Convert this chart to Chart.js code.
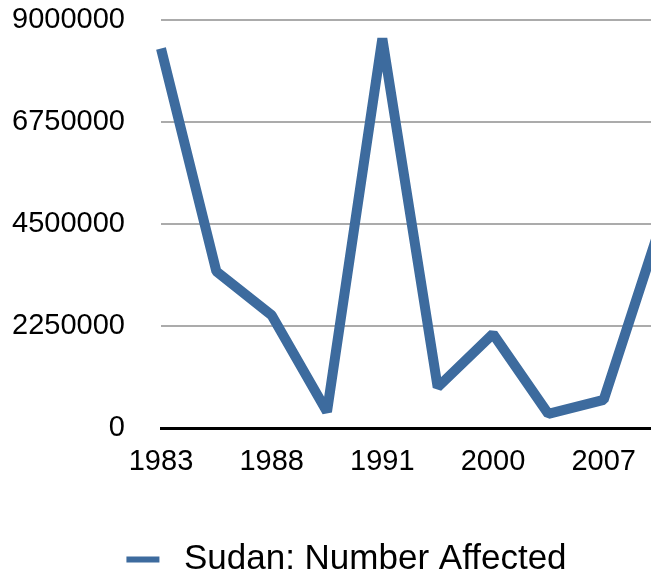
<!DOCTYPE html>
<html lang="en">
<head>
  <meta charset="UTF-8" />
  <title>Sudan: Number Affected</title>
  <script src="https://cdn.jsdelivr.net/npm/chart.js"></script>
  <style>
    html, body {
      margin: 0;
      padding: 0;
      background: #fff;
      overflow: hidden;
    }
    #wrap {
      position: relative;
      width: 651px;
      height: 577px;
      overflow: hidden;
    }
    /* the plot runs past the right edge in the original, so the canvas is wider than the window */
    #sudanChart {
      position: absolute;
      left: 0;
      top: -33px;
    }
  </style>
</head>
<body>
  <div id="wrap">
    <canvas id="sudanChart" width="672" height="620"></canvas>
  </div>

  <script>
    // data (only every other year is labelled on the axis)
    const years = ['1983', '1985', '1988', '1990', '1991', '1996', '2000', '2004', '2007', '2009'];
    const affected = [8380000, 3460000, 2490000, 360000, 8600000, 900000, 2080000, 310000, 620000, 4370000];
    const yTicks = [0, 2250000, 4500000, 6750000, 9000000];

    const lineColor = '#3d6b9e';
    const fontFamily = '"Liberation Sans", Arial, Helvetica, sans-serif';

    Chart.defaults.font.family = fontFamily;
    Chart.defaults.color = '#000';

    // nudge the legend a bit to the right, like the original
    const legendShift = {
      id: 'legendShift',
      afterLayout(chart) {
        chart.legend.left += 11;
        chart.legend.right += 11;
      }
    };

    const ctx = document.getElementById('sudanChart').getContext('2d');

    const chart = new Chart(ctx, {
      type: 'line',
      data: {
        labels: years,
        datasets: [{
          label: 'Sudan: Number Affected',
          data: affected,
          borderColor: lineColor,
          backgroundColor: lineColor,
          borderWidth: 10,
          borderJoinStyle: 'bevel',
          borderCapStyle: 'butt',
          pointRadius: 0,
          tension: 0,
          fill: false
        }]
      },
      options: {
        responsive: false,
        animation: false,
        layout: {
          padding: { left: 12, right: 13, top: 0, bottom: 0 }
        },
        plugins: {
          tooltip: { enabled: false },
          legend: {
            position: 'bottom',
            labels: {
              font: { size: 35 },
              boxWidth: 33,
              boxHeight: 6,
              padding: 10,
              generateLabels: (c) => [{
                text: '\u2009' + c.data.datasets[0].label,
                fillStyle: lineColor,
                strokeStyle: lineColor,
                lineWidth: 0,
                datasetIndex: 0
              }]
            }
          }
        },
        scales: {
          x: {
            offset: false,
            grid: { display: false },
            border: { display: true, color: '#000', width: 3 },
            afterFit: (scale) => {
              scale.height = 104;
            },
            ticks: {
              autoSkip: false,
              maxRotation: 0,
              padding: 9,
              font: { size: 29 },
              callback: (val, i) => (i % 2 === 0 ? years[i] : '')
            }
          },
          y: {
            min: 0,
            max: 9000000,
            afterBuildTicks: (scale) => {
              scale.ticks = yTicks.map(v => ({ value: v }));
            },
            afterFit: (scale) => {
              scale.width = 149;
            },
            border: { display: false },
            grid: {
              color: (c) => (c.tick && c.tick.value === 0 ? 'rgba(0,0,0,0)' : '#ababab'),
              lineWidth: 2,
              drawTicks: false
            },
            ticks: {
              padding: 36,
              font: { size: 29 },
              callback: (v) => String(v)
            }
          }
        }
      },
      plugins: [legendShift]
    });
  </script>
</body>
</html>
